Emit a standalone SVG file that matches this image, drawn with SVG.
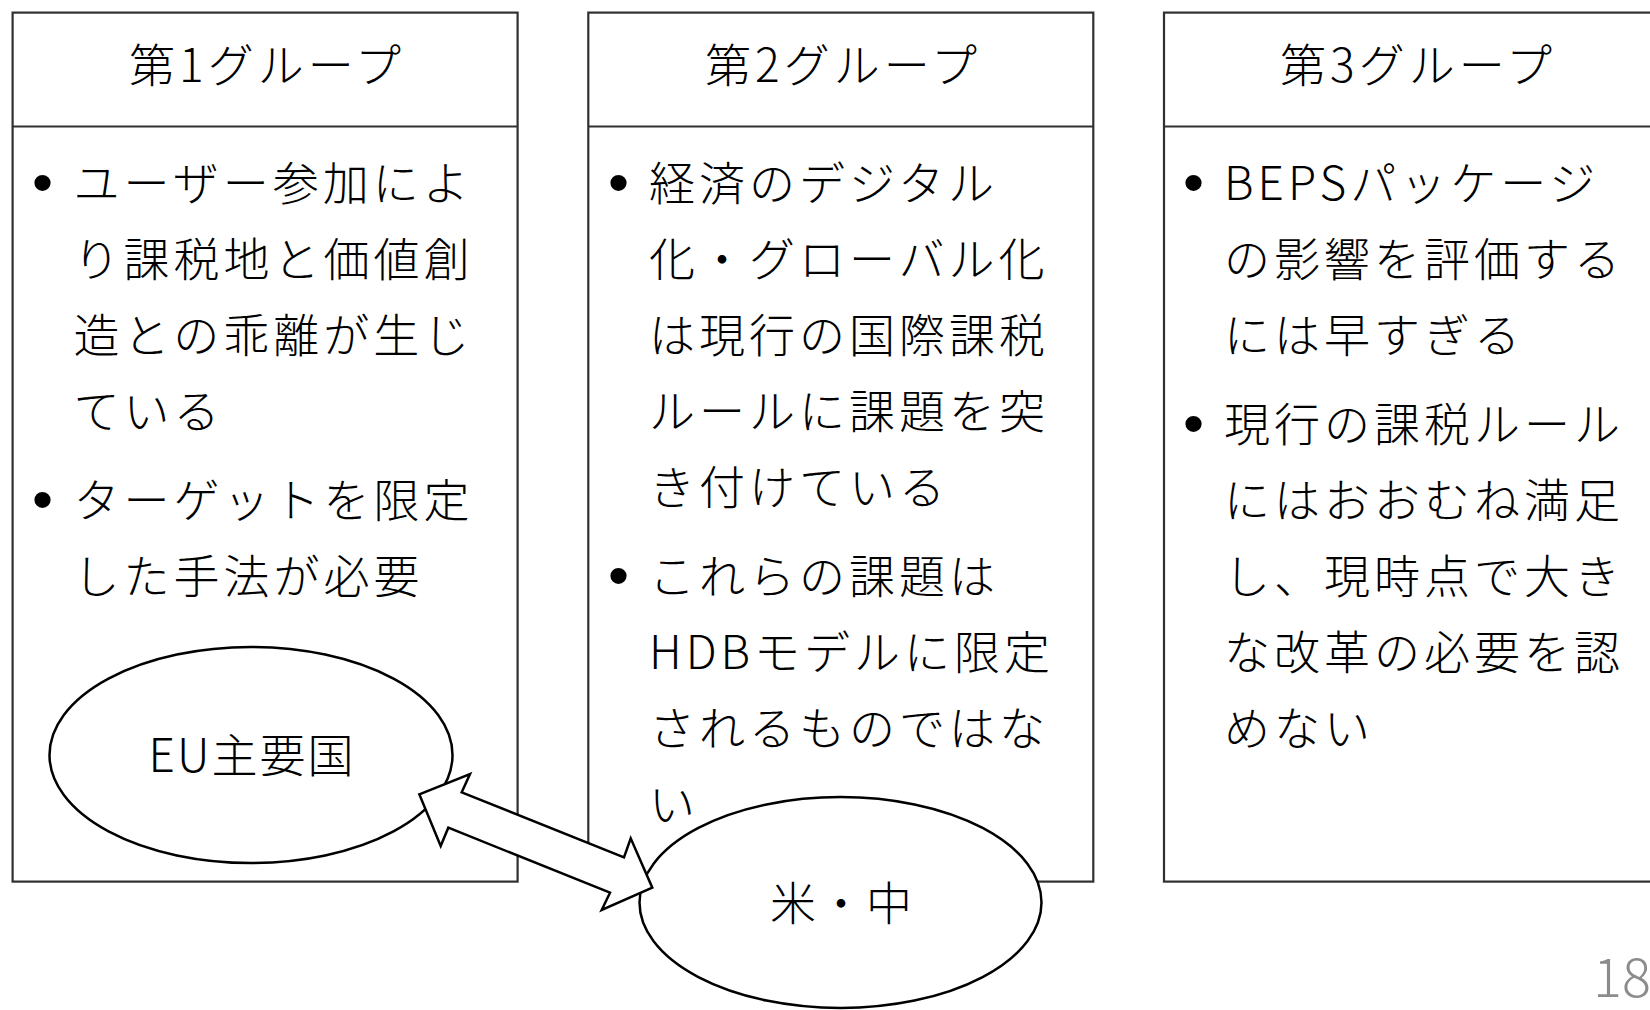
<svg xmlns="http://www.w3.org/2000/svg" width="1650" height="1010" viewBox="0 0 1650 1010">
<style>
.box{fill:#fff;stroke:#303030;stroke-width:2.2}
.div{stroke:#303030;stroke-width:2.2}
.t{font-family:"Noto Sans CJK JP","Noto Sans",sans-serif;font-size:46px;font-weight:300;fill:#000;letter-spacing:4px}
.h{text-anchor:middle}
.b{font-family:"Liberation Sans",sans-serif;font-size:60px;fill:#000}
.ell{fill:#fff;stroke:#000;stroke-width:2.5}
.c{text-anchor:middle;letter-spacing:2px}
.arrow{fill:#fff;stroke:#000;stroke-width:2.5;stroke-linejoin:miter}
.pg{font-family:"Noto Sans CJK JP","Noto Sans",sans-serif;font-size:54px;font-weight:300;fill:#8c8c8c}
</style>
<rect width="1650" height="1010" fill="#fff"/>
<g id="group1">
<rect class="box" x="12.6" y="12.6" width="505" height="869"/>
<line class="div" x1="12.6" y1="126.5" x2="517.6" y2="126.5"/>
<text class="t h" x="267" y="82">第1グループ</text>
<text class="b" x="32" y="203">•</text>
<text class="t" x="73.6" y="200">ユーザー参加によ</text>
<text class="t" x="73.6" y="276">り課税地と価値創</text>
<text class="t" x="73.6" y="352">造との乖離が生じ</text>
<text class="t" x="73.6" y="428">ている</text>
<text class="b" x="32" y="520">•</text>
<text class="t" x="73.6" y="517">ターゲットを限定</text>
<text class="t" x="73.6" y="593">した手法が必要</text>
</g>
<g id="group2">
<rect class="box" x="588.3" y="12.6" width="505" height="869"/>
<line class="div" x1="588.3" y1="126.5" x2="1093.3" y2="126.5"/>
<text class="t h" x="843" y="82">第2グループ</text>
<text class="b" x="608" y="203">•</text>
<text class="t" x="649" y="200">経済のデジタル</text>
<text class="t" x="649" y="276">化・グローバル化</text>
<text class="t" x="649" y="352">は現行の国際課税</text>
<text class="t" x="649" y="428">ルールに課題を突</text>
<text class="t" x="649" y="504">き付けている</text>
<text class="b" x="608" y="596">•</text>
<text class="t" x="649" y="593">これらの課題は</text>
<text class="t" x="649" y="669">HDBモデルに限定</text>
<text class="t" x="649" y="745">されるものではな</text>
<text class="t" x="649" y="821">い</text>
</g>
<g id="group3">
<rect class="box" x="1164" y="12.6" width="505" height="869"/>
<line class="div" x1="1164" y1="126.5" x2="1669" y2="126.5"/>
<text class="t h" x="1418" y="82">第3グループ</text>
<text class="b" x="1183" y="203">•</text>
<text class="t" x="1224" y="200">BEPSパッケージ</text>
<text class="t" x="1224" y="276">の影響を評価する</text>
<text class="t" x="1224" y="352">には早すぎる</text>
<text class="b" x="1183" y="444">•</text>
<text class="t" x="1224" y="441">現行の課税ルール</text>
<text class="t" x="1224" y="517">にはおおむね満足</text>
<text class="t" x="1224" y="593">し、現時点で大き</text>
<text class="t" x="1224" y="669">な改革の必要を認</text>
<text class="t" x="1224" y="745">めない</text>
</g>
<g id="eu">
<ellipse class="ell" cx="251" cy="755" rx="201.5" ry="108"/>
<text class="t c" x="252" y="772">EU主要国</text>
</g>
<g id="us-china">
<ellipse class="ell" cx="840.5" cy="902.5" rx="201" ry="105.5"/>
<text class="t c" x="842" y="920">米・中</text>
</g>
<g id="connectors">
<polygon class="arrow" points="419.3,794.3 470,774 461.7,792.3 624,857.3 630.7,838.3 652.3,887.7 601.7,910 610,892.7 448.3,827.7 440.7,846"/>
</g>
<text class="pg" x="1593" y="997">18</text>
</svg>
